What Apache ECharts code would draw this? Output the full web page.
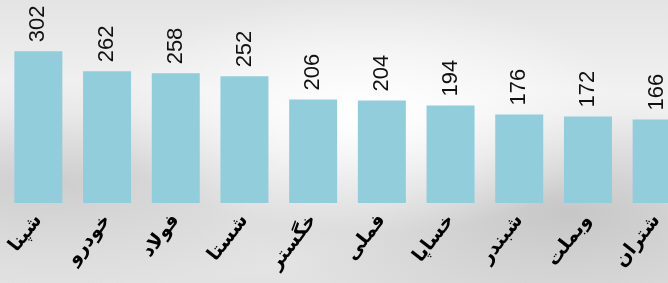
<!DOCTYPE html>
<html>
<head>
<meta charset="utf-8">
<script src="https://cdn.jsdelivr.net/npm/echarts@6/dist/echarts.min.js"></script>
<style>
    html, body { margin: 0; padding: 0; }
    #chart {
        width: 668px; height: 283px;
        background:
            radial-gradient(ellipse at 55% 40%, rgba(255,255,255,1) 0%, rgba(255,255,255,0) 50%),
            radial-gradient(ellipse at 8% 65%, rgba(185,185,185,0.6) 0%, rgba(185,185,185,0) 40%),
            radial-gradient(ellipse at 85% 75%, rgba(175,175,175,0.6) 0%, rgba(175,175,175,0) 40%),
            linear-gradient(180deg, #e4e4e4 0%, #f4f4f4 40%, #e2e2e2 100%);
    }
</style>
</head>
<body>
<div id="chart"></div>
<script>
// نمادها و مقادیر
var symbols = ["شپنا", "خودرو", "فولاد", "شستا", "خگستر", "فملی", "خساپا", "شبندر", "وبملت", "شتران"];
var values = [302, 262, 258, 252, 206, 204, 194, 176, 172, 166];

var myChart = echarts.init(document.getElementById("chart"));
var option = {
    animation: false,
    grid: {
        left: 4,
        top: 2,
        width: 687,
        height: 201,
        containLabel: false,
        outerBoundsMode: "none"
    },
    xAxis: {
        type: "category",
        data: symbols,
        axisLine: { show: false },
        axisTick: { show: false },
        axisLabel: {
            interval: 0,
            rotate: 52,
            margin: 14,
            color: "#000",
            fontWeight: "bold",
            fontSize: 19,
            fontFamily: "DejaVu Sans"
        }
    },
    yAxis: {
        type: "value",
        min: 0,
        max: 400,
        show: false,
        splitLine: { show: false }
    },
    series: [
        {
            type: "bar",
            data: values,
            barWidth: 48,
            itemStyle: { color: "#92CDDC" },
            label: {
                show: true,
                position: "top",
                rotate: 90,
                align: "left",
                verticalAlign: "middle",
                distance: 9,
                color: "#111",
                fontSize: 22,
                fontFamily: "Liberation Sans"
            }
        }
    ]
};
myChart.setOption(option);
</script>
</body>
</html>
